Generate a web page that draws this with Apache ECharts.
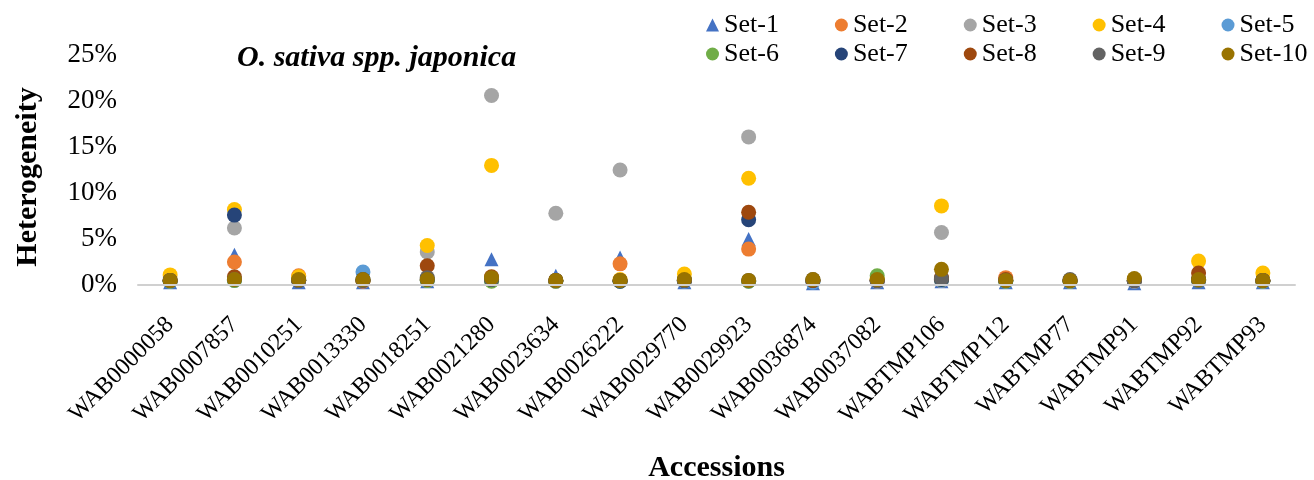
<!DOCTYPE html>
<html>
<head>
<meta charset="utf-8">
<title>Heterogeneity by accession</title>
<script src="https://cdn.jsdelivr.net/npm/echarts@6/dist/echarts.min.js"></script>
<style>
  html, body { margin: 0; padding: 0; background: #ffffff; }
  #chart { width: 1314px; height: 480px; }
</style>
</head>
<body>
<div id="chart"></div>
<script>
// Accessions on the category axis
const accessions = [
  'WAB0000058', 'WAB0007857', 'WAB0010251', 'WAB0013330', 'WAB0018251',
  'WAB0021280', 'WAB0023634', 'WAB0026222', 'WAB0029770', 'WAB0029923',
  'WAB0036874', 'WAB0037082', 'WABTMP106', 'WABTMP112', 'WABTMP77',
  'WABTMP91', 'WABTMP92', 'WABTMP93'
];

// Heterogeneity (%) per accession, one array per marker set
const set1  = [0.3, 3.3, 0.3, 0.3, 0.4, 2.8, 1.0, 3.0, 0.3, 5.0, 0.2, 0.3, 0.4, 0.3, 0.3, 0.2, 0.3, 0.3];
const set2  = [0.5, 2.5, 1.0, 0.4, 0.5, 0.6, 0.4, 2.3, 0.5, 3.9, 0.4, 0.4, 0.5, 0.8, 0.4, 0.4, 0.6, 0.4];
const set3  = [0.6, 6.2, 0.6, 0.5, 3.6, 20.6, 7.8, 12.5, 0.6, 16.1, 0.5, 0.5, 5.7, 0.5, 0.5, 0.5, 0.6, 0.5];
const set4  = [1.1, 8.2, 0.9, 0.5, 4.3, 13.0, 0.5, 0.6, 1.2, 11.6, 0.5, 0.6, 8.6, 0.5, 0.5, 0.6, 2.6, 1.3];
const set5  = [0.4, 0.5, 0.5, 1.4, 0.5, 0.5, 0.4, 0.4, 0.4, 0.4, 0.3, 0.4, 0.5, 0.4, 0.4, 0.4, 0.5, 0.4];
const set6  = [0.4, 0.5, 0.5, 0.5, 0.5, 0.4, 0.4, 0.4, 0.5, 0.4, 0.5, 1.0, 0.6, 0.4, 0.4, 0.5, 0.5, 0.4];
const set7  = [0.5, 7.6, 0.5, 0.6, 0.6, 0.6, 0.5, 0.4, 0.5, 7.1, 0.5, 0.5, 0.6, 0.5, 0.5, 0.5, 0.6, 0.5];
const set8  = [0.5, 0.9, 0.5, 0.5, 2.1, 0.9, 0.5, 0.5, 0.5, 7.9, 0.5, 0.5, 0.8, 0.6, 0.5, 0.5, 1.3, 0.5];
const set9  = [0.5, 0.6, 0.5, 0.5, 0.8, 0.6, 0.5, 0.5, 0.5, 0.5, 0.6, 0.5, 0.7, 0.5, 0.6, 0.5, 0.5, 0.5];
const set10 = [0.5, 0.6, 0.6, 0.6, 0.6, 0.8, 0.5, 0.5, 0.6, 0.5, 0.6, 0.6, 1.7, 0.5, 0.5, 0.7, 0.6, 0.5];

const setNames = ['Set-1', 'Set-2', 'Set-3', 'Set-4', 'Set-5', 'Set-6', 'Set-7', 'Set-8', 'Set-9', 'Set-10'];
const setValues = [set1, set2, set3, set4, set5, set6, set7, set8, set9, set10];
const setColors = ['#4472C4', '#ED7D31', '#A5A5A5', '#FFC000', '#5B9BD5',
                   '#70AD47', '#264478', '#9E480E', '#636363', '#997300'];
const setSymbols = ['triangle', 'circle', 'circle', 'circle', 'circle',
                    'circle', 'circle', 'circle', 'circle', 'circle'];

const yTicks = { min: 0, max: 25, interval: 5 };

const serif = '"Liberation Serif", "Times New Roman", serif';
const baseLineColor = '#D0D0D0';

const chart = echarts.init(document.getElementById('chart'), null, { renderer: 'canvas' });

// Two legend rows of five entries each, sharing the same column spacing
const legendBase = {
  orient: 'horizontal',
  left: 701,
  itemWidth: 13,
  itemHeight: 13,
  itemGap: 56,
  selectedMode: false,
  textStyle: { fontFamily: serif, fontSize: 26, color: '#000' }
};

chart.setOption({
  animation: false,
  backgroundColor: '#ffffff',
  title: {
    text: 'O. sativa spp. japonica',
    left: 232,
    top: 38,
    textStyle: {
      fontFamily: serif,
      fontSize: 30,
      fontStyle: 'italic',
      fontWeight: 'bold',
      color: '#000'
    }
  },
  legend: [
    Object.assign({}, legendBase, { top: 7, data: setNames.slice(0, 5) }),
    Object.assign({}, legendBase, { top: 36, data: setNames.slice(5) })
  ],
  grid: { left: 138, right: 19, top: 55, bottom: 195, outerBoundsMode: 'none' },
  xAxis: {
    type: 'category',
    data: accessions,
    boundaryGap: true,
    name: 'Accessions',
    nameLocation: 'middle',
    nameGap: 168,
    nameTextStyle: { fontFamily: serif, fontSize: 30, fontWeight: 'bold', color: '#000' },
    axisLine: { show: true, onZero: false, lineStyle: { color: baseLineColor, width: 2 } },
    axisTick: { show: false },
    splitLine: { show: false },
    axisLabel: {
      interval: 0,
      rotate: 45,
      margin: 36,
      fontFamily: serif,
      fontSize: 24,
      color: '#000'
    }
  },
  yAxis: {
    type: 'value',
    min: yTicks.min,
    max: yTicks.max,
    interval: yTicks.interval,
    name: 'Heterogeneity',
    nameLocation: 'middle',
    nameGap: 95,
    nameRotate: 90,
    nameTextStyle: {
      fontFamily: serif,
      fontSize: 30,
      fontWeight: 'bold',
      color: '#000',
      padding: [0, 14, 0, 0]
    },
    axisLine: { show: false },
    axisTick: { show: false },
    splitLine: { show: false },
    axisLabel: {
      formatter: '{value}%',
      margin: 21,
      fontFamily: serif,
      fontSize: 27,
      color: '#000'
    }
  },
  series: setNames.map((name, i) => {
    const s = {
      name: name,
      type: 'scatter',
      data: setValues[i],
      symbol: setSymbols[i],
      symbolSize: setSymbols[i] === 'triangle' ? 14 : 15,
      itemStyle: { color: setColors[i], opacity: 1 },
      emphasis: { disabled: true }
    };
    if (i === 0) {
      // horizontal baseline at 0%, drawn beneath the later marker sets
      s.markLine = {
        silent: true,
        symbol: ['none', 'none'],
        label: { show: false },
        lineStyle: { color: baseLineColor, width: 2, type: 'solid' },
        emphasis: { disabled: true },
        data: [{ yAxis: yTicks.min }]
      };
    }
    return s;
  })
});
</script>
</body>
</html>
